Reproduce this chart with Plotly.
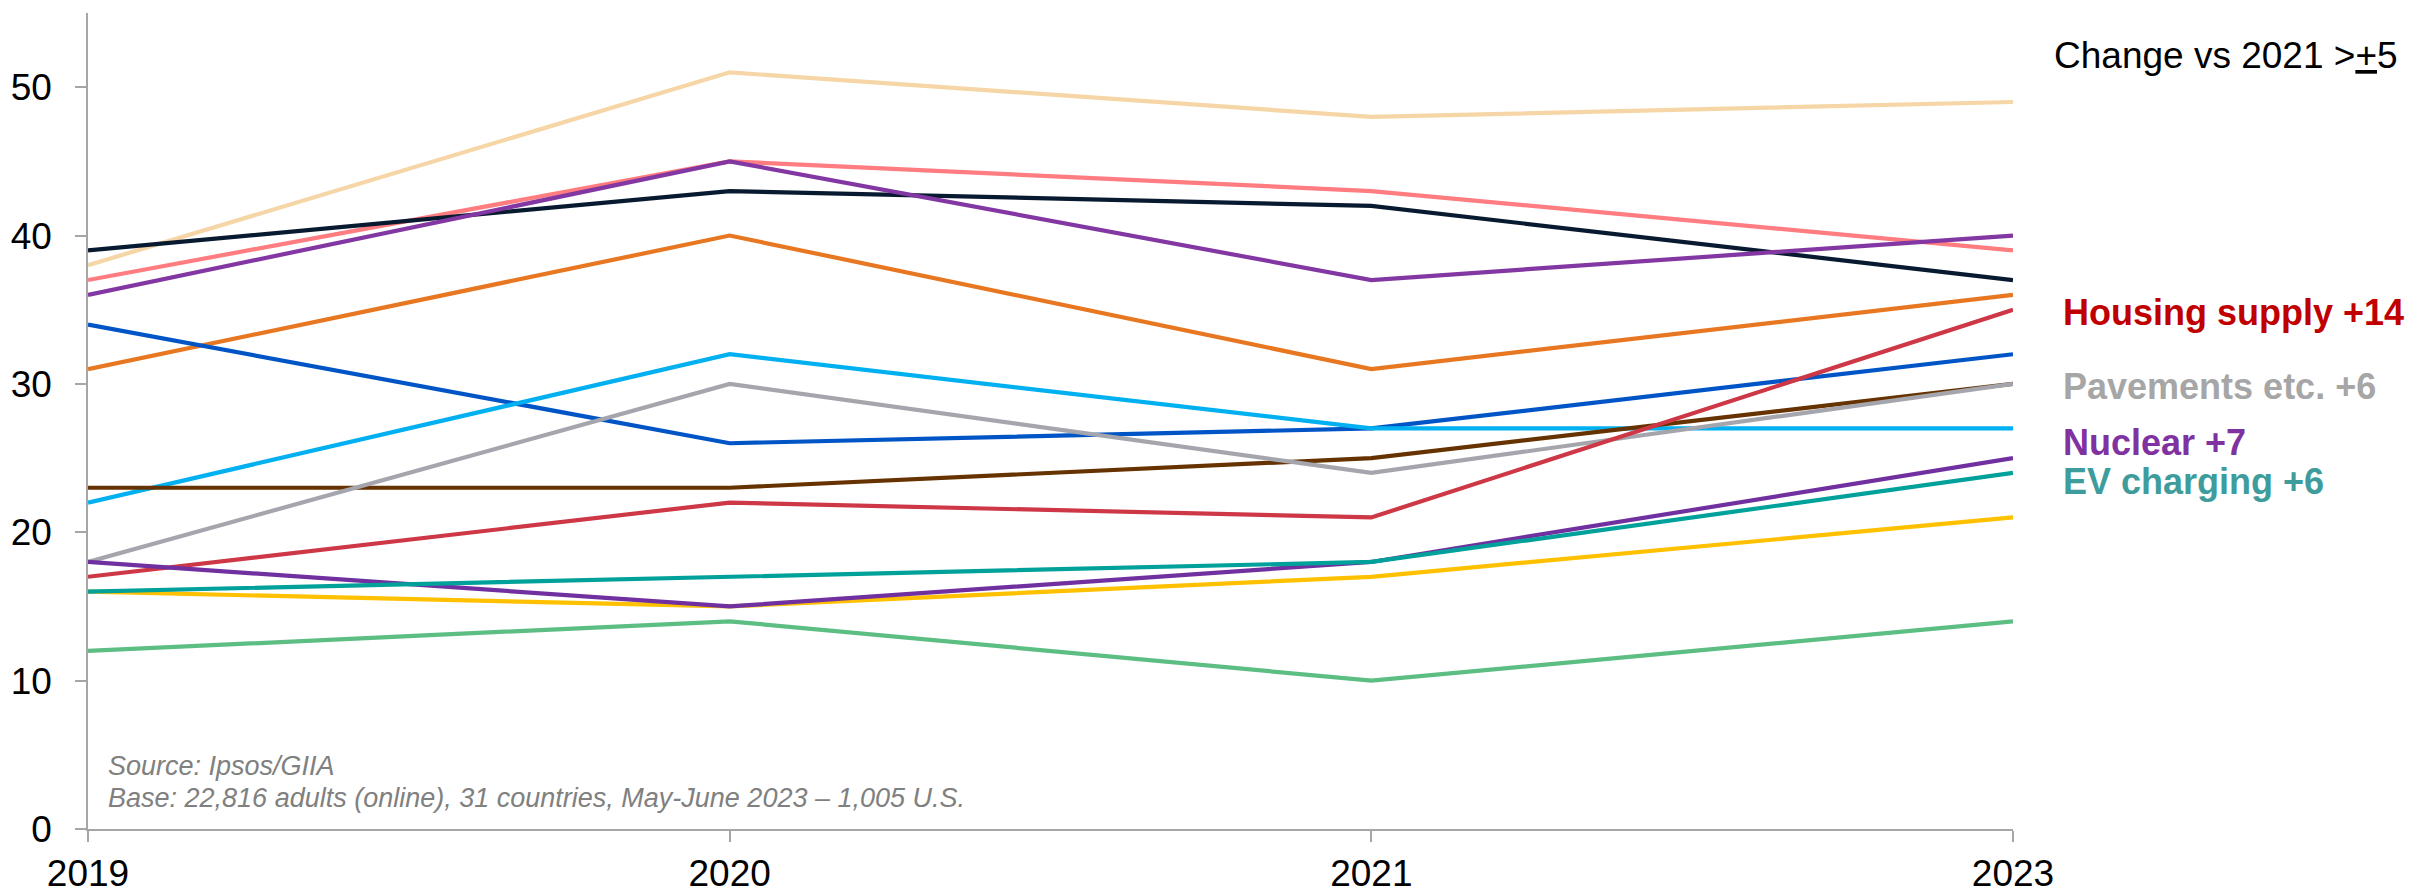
import plotly.graph_objects as go

years = ["2019", "2020", "2021", "2023"]

wheat_line = [38, 51, 48, 49]
pink_line = [37, 45, 43, 39]
navy_line = [39, 43, 42, 37]
plum_line = [36, 45, 37, 40]
orange_line = [31, 40, 31, 36]
blue_line = [34, 26, 27, 32]
sky_line = [22, 32, 27, 27]
brown_line = [23, 23, 25, 30]
pavements = [18, 30, 24, 30]
housing_supply = [17, 22, 21, 35]
yellow_line = [16, 15, 17, 21]
nuclear = [18, 15, 18, 25]
ev_charging = [16, 17, 18, 24]
green_line = [12, 14, 10, 14]

y_ticks = [0, 10, 20, 30, 40, 50]

series = [
    ("Series (wheat)", wheat_line, "#F6D6A6"),
    ("Series (pink)", pink_line, "#FF7C80"),
    ("Series (navy)", navy_line, "#081A30"),
    ("Series (plum)", plum_line, "#8237A2"),
    ("Series (orange)", orange_line, "#E87722"),
    ("Series (blue)", blue_line, "#0055C6"),
    ("Series (sky)", sky_line, "#00B0F0"),
    ("Series (brown)", brown_line, "#663300"),
    ("Pavements etc.", pavements, "#A5A5AD"),
    ("Housing supply", housing_supply, "#CD3746"),
    ("Series (yellow)", yellow_line, "#FFC000"),
    ("Nuclear", nuclear, "#7030A0"),
    ("EV charging", ev_charging, "#00A19B"),
    ("Series (green)", green_line, "#5DBE84"),
]

fig = go.Figure()
for name, vals, col in series:
    fig.add_trace(go.Scatter(x=years, y=vals, mode="lines", name=name,
                             line=dict(color=col, width=4.2)))

FONT = "Liberation Sans, Arial, sans-serif"
axis_col = "#A6A6A6"

fig.update_layout(
    width=2433, height=893,
    margin=dict(l=88, r=420, t=13, b=64, pad=0, autoexpand=False),
    paper_bgcolor="white", plot_bgcolor="white",
    showlegend=False,
    font=dict(family=FONT, color="black", size=37),
    xaxis=dict(type="category", range=[0, 3], showgrid=False, zeroline=False,
               automargin=False,
               showline=True, linecolor=axis_col, linewidth=1.5,
               ticks="outside", ticklen=11, tickwidth=1.5, tickcolor=axis_col,
               tickfont=dict(family=FONT, size=37, color="black")),
    yaxis=dict(range=[0, 55], tickvals=y_ticks, showgrid=False, zeroline=False,
               automargin=False, ticklabelstandoff=16,
               showline=True, linecolor=axis_col, linewidth=1.5,
               ticks="outside", ticklen=11, tickwidth=1.5, tickcolor=axis_col,
               tickfont=dict(family=FONT, size=37, color="black")),
)

def px_x(px):
    return (px - 88) / 1925.0

def px_y(py):
    return (829 - py) / 816.0

ann = [
    ("Change vs 2021 ><u>+</u>5", 2052, 55, "black", 37),
    ("<b>Housing supply +14</b>", 2061, 312, "#C00000", 36),
    ("<b>Pavements etc. +6</b>", 2061, 386, "#A6A6A6", 36),
    ("<b>Nuclear +7</b>", 2061, 442, "#8032A0", 36),
    ("<b>EV charging +6</b>", 2061, 482, "#3F9C9C", 36),
]
for text, x, y, col, size in ann:
    fig.add_annotation(text=text, xref="paper", yref="paper", x=px_x(x), y=px_y(y),
                       xanchor="left", yanchor="middle", showarrow=False,
                       font=dict(family=FONT, size=size, color=col))

for text, y in [("<i>Source: Ipsos/GIIA</i>", 766),
                ("<i>Base: 22,816 adults (online), 31 countries, May-June 2023 \u2013 1,005 U.S.</i>", 797.5)]:
    fig.add_annotation(text=text, xref="paper", yref="paper", x=px_x(106), y=px_y(y),
                       xanchor="left", yanchor="middle", showarrow=False,
                       font=dict(family=FONT, size=27, color="#808080"))

fig.write_html("out.html")
